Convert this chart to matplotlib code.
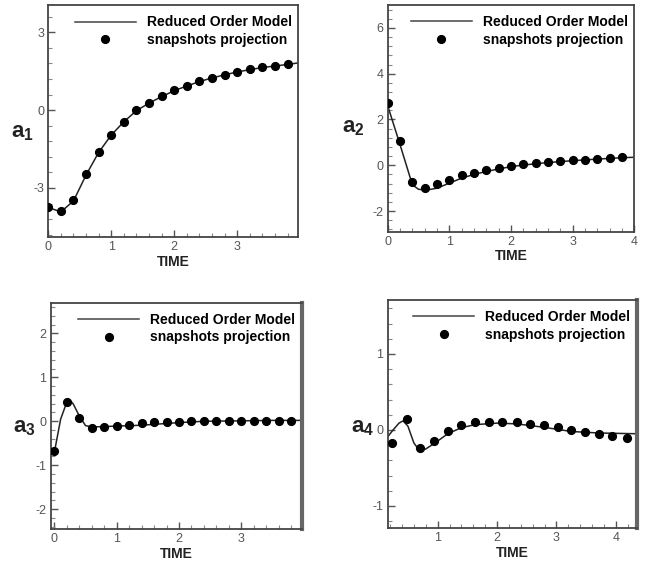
import matplotlib.pyplot as plt
from matplotlib.ticker import MultipleLocator, AutoMinorLocator
from matplotlib.lines import Line2D

plt.rcParams['font.family'] = ['Liberation Sans', 'DejaVu Sans']
plt.rcParams['axes.unicode_minus'] = False
plt.rcParams['mathtext.fontset'] = 'custom'
plt.rcParams['mathtext.bf'] = 'Liberation Sans:bold'
plt.rcParams['mathtext.rm'] = 'Liberation Sans'

# snapshot projections (dots)
t_snap = [0.0, 0.2, 0.4, 0.6, 0.8, 1.0, 1.2, 1.4, 1.6, 1.8, 2.0,
          2.2, 2.4, 2.6, 2.8, 3.0, 3.2, 3.4, 3.6, 3.8]
a1_snap = [-3.73, -3.89, -3.45, -2.47, -1.61, -0.95, -0.44, -0.01, 0.27, 0.53, 0.76,
           0.94, 1.11, 1.25, 1.36, 1.48, 1.57, 1.65, 1.70, 1.76]
a2_snap = [2.73, 1.04, -0.74, -0.99, -0.82, -0.63, -0.44, -0.34, -0.20, -0.10, -0.01,
           0.06, 0.09, 0.13, 0.19, 0.23, 0.25, 0.28, 0.31, 0.34]
a3_snap = [-0.68, 0.44, 0.08, -0.15, -0.13, -0.10, -0.08, -0.05, -0.02, -0.02, -0.01,
           0.01, 0.01, 0.01, 0.01, 0.01, 0.01, 0.01, 0.01, 0.01]
t4_snap = [0.24, 0.48, 0.71, 0.94, 1.17, 1.40, 1.63, 1.86, 2.09, 2.33,
           2.55, 2.79, 3.02, 3.25, 3.48, 3.71, 3.94, 4.18]
a4_snap = [-0.17, 0.14, -0.24, -0.14, -0.02, 0.06, 0.10, 0.11, 0.11, 0.11,
           0.08, 0.06, 0.04, 0.0, -0.03, -0.05, -0.08, -0.11]

# reduced order model (lines)
t1_rom = [0.0, 0.2, 0.4, 0.6, 0.8, 1.0, 1.2, 1.4, 1.6, 1.8, 2.0,
          2.2, 2.4, 2.6, 2.8, 3.0, 3.2, 3.4, 3.6, 3.8, 4.0]
a1_rom = [-3.75, -3.92, -3.50, -2.50, -1.63, -0.96, -0.45, -0.02, 0.27, 0.52, 0.75,
          0.93, 1.10, 1.24, 1.36, 1.47, 1.56, 1.64, 1.70, 1.76, 1.83]
t2_rom = [0.0, 0.2, 0.4, 0.5, 0.6, 0.7, 0.8, 1.0, 1.2, 1.4, 1.6, 1.8, 2.0,
          2.2, 2.6, 3.0, 3.4, 3.8, 4.0]
a2_rom = [2.6, 0.9, -0.85, -1.05, -1.07, -1.05, -1.0, -0.78, -0.56, -0.40, -0.27, -0.16, -0.06,
          0.01, 0.12, 0.20, 0.27, 0.33, 0.35]
t3_rom = [0.0, 0.1, 0.2, 0.25, 0.3, 0.4, 0.5, 0.6, 0.8, 1.0, 1.2, 1.4, 1.6, 1.8,
          2.0, 2.4, 3.0, 3.5, 4.0]
a3_rom = [-0.70, 0.05, 0.44, 0.47, 0.40, 0.12, -0.10, -0.13, -0.12, -0.11, -0.10, -0.09, -0.07, -0.05,
          -0.03, 0.0, 0.01, 0.02, 0.02]
t4_rom = [0.16, 0.25, 0.35, 0.42, 0.50, 0.60, 0.70, 0.80, 0.94, 1.17, 1.40, 1.63,
          2.00, 2.33, 2.79, 3.25, 3.71, 4.35]
a4_rom = [-0.09, 0.0, 0.09, 0.12, 0.05, -0.17, -0.28, -0.25, -0.18, -0.05, 0.03, 0.07,
          0.09, 0.08, 0.035, -0.02, -0.04, -0.05]

panels = [
    ([0.0744, 0.5785, 0.3852, 0.4126], t1_rom, a1_rom, t_snap, a1_snap, (0, 3.97), (-4.9, 4.05), 3, '1', (-0.105, 0.45)),
    ([0.5974, 0.5885, 0.3799, 0.4026], t2_rom, a2_rom, t_snap, a2_snap, (0, 4.0), (-2.9, 7.0), 2, '2', (-0.14, 0.46)),
    ([0.0781, 0.0599, 0.3868, 0.4024], t3_rom, a3_rom, t_snap, a3_snap, (-0.06, 3.97), (-2.46, 2.7), 1, '3', (-0.106, 0.45)),
    ([0.5974, 0.0622, 0.3836, 0.4049], t4_rom, a4_rom, t4_snap, a4_snap, (0.16, 4.35), (-1.29, 1.71), 1, '4', (-0.103, 0.44)),
]

fig = plt.figure(figsize=(6.49, 5.63), dpi=100)

for i, (pos, tr, ar, ts, as_, xl, yl, ymaj, idx, lab_xy) in enumerate(panels):
    ax = fig.add_axes(pos)
    ax.plot(tr, ar, color='#222222', lw=1.1, zorder=2)
    ax.plot(ts, as_, 'o', color='black', ms=5.6, zorder=3)
    ax.set_xlim(*xl)
    ax.set_ylim(*yl)
    ax.xaxis.set_major_locator(MultipleLocator(1))
    ax.yaxis.set_major_locator(MultipleLocator(ymaj))
    ax.xaxis.set_minor_locator(AutoMinorLocator(5))
    ax.yaxis.set_minor_locator(AutoMinorLocator(5))
    ax.tick_params(which='major', direction='in', length=5, width=1, color='#555555',
                   labelsize=9, labelcolor='#555555', pad=3)
    ax.tick_params(which='minor', direction='in', length=3, width=0.8, color='#888888')
    ax.tick_params(top=False, right=False, which='both')
    for s in ax.spines.values():
        s.set_color('#444444')
        s.set_linewidth(1.3)
    if i >= 2:
        ax.spines['right'].set_linewidth(3)
        ax.spines['right'].set_color('#666666')
    ax.set_xlabel('TIME', fontsize=10, fontweight='bold', color='#222222', labelpad=1)
    ax.set_ylabel(r'$\mathbf{a}_{\mathbf{' + idx + '}}$', fontsize=16, rotation=0,
                  color='#222222', va='center', ha='center')
    ax.yaxis.set_label_coords(*lab_xy)
    handles = [Line2D([], [], color='#444444', lw=1.1),
               Line2D([], [], ls='none', marker='o', color='black', ms=5.6)]
    ax.legend(handles, ['Reduced Order Model', 'snapshots projection'],
              loc='upper right', bbox_to_anchor=(0.975, 0.955), frameon=False,
              prop={'weight': 'bold', 'size': 10}, handlelength=4.4,
              borderaxespad=0, borderpad=0, labelspacing=0.25, handletextpad=0.8)

fig.savefig('out.png', dpi=100)
